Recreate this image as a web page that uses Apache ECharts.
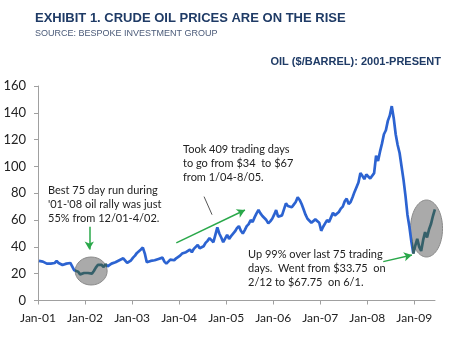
<!DOCTYPE html>
<html>
<head>
<meta charset="utf-8">
<script src="https://cdn.jsdelivr.net/npm/echarts@6/dist/echarts.min.js"></script>
<style>
  html, body { margin: 0; padding: 0; background: #fff; }
  #chart { width: 450px; height: 350px; }
</style>
</head>
<body>
<div id="chart"></div>
<script>
// tick labels
const xLabels = ['Jan-01', 'Jan-02', 'Jan-03', 'Jan-04', 'Jan-05', 'Jan-06', 'Jan-07', 'Jan-08', 'Jan-09'];

// oil price, $/barrel, two readings per month
const p2001 = [29.5, 30.5, 29.0, 28.5, 27.5, 26.5, 27.5, 28.5, 28.0, 29.5, 28.0, 27.0, 26.5, 27.0, 27.5, 26.5, 28.0, 27.0, 22.5, 22.0, 21.5, 19.5, 19.0, 20.5];
const p2002 = [19.5, 20.5, 21.0, 20.0, 22.0, 24.5, 26.5, 27.5, 26.5, 25.0, 27.0, 25.5, 26.0, 27.5, 27.0, 28.5, 29.0, 30.0, 30.5, 31.5, 31.0, 28.0, 27.5, 30.0];
const p2003 = [32.0, 33.5, 35.5, 36.5, 38.0, 39.5, 35.0, 28.5, 28.0, 29.5, 28.5, 30.0, 30.5, 31.0, 31.5, 32.0, 29.0, 27.5, 28.5, 30.5, 31.0, 30.0, 31.5, 32.5];
const p2004 = [33.5, 35.0, 34.5, 36.0, 36.5, 38.0, 36.0, 38.5, 40.0, 41.5, 39.0, 38.5, 40.5, 43.0, 44.5, 46.5, 45.0, 43.5, 49.0, 54.5, 50.0, 47.0, 43.5, 43.0];
const p2005 = [49.0, 46.0, 48.0, 47.5, 51.5, 54.0, 55.5, 52.0, 50.0, 52.5, 55.5, 57.0, 60.0, 58.5, 62.0, 65.0, 67.5, 65.0, 63.0, 61.5, 60.0, 57.5, 59.0, 61.0];
const p2006 = [64.0, 67.5, 62.5, 61.5, 63.5, 68.0, 72.5, 70.5, 71.5, 69.5, 71.5, 73.5, 77.0, 75.0, 72.0, 68.0, 64.0, 61.0, 60.0, 58.0, 58.5, 60.5, 61.5, 58.0];
const p2007 = [52.0, 55.0, 57.5, 60.0, 58.5, 62.0, 65.5, 63.5, 64.5, 66.0, 68.5, 70.0, 74.0, 76.0, 72.0, 73.5, 77.0, 81.0, 82.0, 88.0, 95.0, 93.0, 90.5, 94.0];
const p2008 = [95.0, 91.0, 92.0, 95.0, 108.0, 104.0, 111.0, 117.0, 124.0, 127.0, 134.0, 138.0, 145.0, 136.0, 124.0, 116.0, 110.0, 100.0, 90.0, 78.0, 64.0, 55.0, 44.0, 35.0];
const p2009 = [41.0, 46.0, 40.0, 37.0, 45.0, 51.0, 47.0, 53.0, 57.0, 63.0, 68.0];

const pricesByYear = [p2001, p2002, p2003, p2004, p2005, p2006, p2007, p2008, p2009];

// x = years since Jan-01
const points = [];
pricesByYear.forEach((arr, k) => {
  arr.forEach((v, i) => points.push([k + (i + 0.5) / 24, v]));
});

const BLUE = '#2c63d1';
const DARK = '#35606a';
const GREEN = '#2aa84a';
const NOTE_FONT = 'Lato';

// annotation arrows in data space
const arrowLines = [
  [{ coord: [1.09, 55], symbol: 'none' }, { coord: [1.09, 38], symbol: 'arrow' }],
  [{ coord: [2.94, 43], symbol: 'none' }, { coord: [4.40, 67.5], symbol: 'arrow' }],
  [{ coord: [7.34, 29], symbol: 'none' }, { coord: [7.95, 34], symbol: 'arrow' }],
  [{ coord: [3.53, 77.5], symbol: 'none', lineStyle: { color: '#555', width: 1 } }, { coord: [3.70, 64], symbol: 'none' }]
];

const chart = echarts.init(document.getElementById('chart'));

chart.setOption({
  animation: false,
  grid: { left: 38, right: 15, top: 86, bottom: 49.5 },
  xAxis: {
    type: 'value',
    min: 0,
    max: 8.44,
    interval: 1,
    splitLine: { show: false },
    axisLine: { lineStyle: { color: '#a0a0a0' } },
    axisTick: { length: 4, customValues: [0, 1, 2, 3, 4, 5, 6, 7, 8], lineStyle: { color: '#a0a0a0' } },
    axisLabel: {
      customValues: [0, 1, 2, 3, 4, 5, 6, 7, 8],
      formatter: v => xLabels[Math.round(v)],
      color: '#222',
      fontFamily: NOTE_FONT,
      fontSize: 12,
      margin: 12
    }
  },
  yAxis: {
    type: 'value',
    min: 0,
    max: 160,
    interval: 20,
    splitLine: { show: false },
    axisLine: { show: true, lineStyle: { color: '#a0a0a0' } },
    axisTick: { show: true, length: 4, lineStyle: { color: '#a0a0a0' } },
    axisLabel: { color: '#222', fontFamily: NOTE_FONT, fontSize: 13, margin: 12 }
  },
  visualMap: {
    type: 'piecewise',
    show: false,
    dimension: 0,
    seriesIndex: 0,
    pieces: [
      { lt: 0.79, color: BLUE },
      { gte: 0.79, lt: 1.46, color: DARK },
      { gte: 1.46, lt: 7.95, color: BLUE },
      { gte: 7.95, color: DARK }
    ]
  },
  series: [{
    type: 'line',
    data: points,
    showSymbol: false,
    lineStyle: { width: 2.7 },
    z: 3,
    markLine: {
      silent: true,
      symbolSize: [7, 8],
      label: { show: false },
      lineStyle: { color: GREEN, width: 1.5, type: 'solid' },
      data: arrowLines
    }
  }]
});

const px = p => chart.convertToPixel({ gridIndex: 0 }, p);

const ellipses = [
  { center: [1.13, 22], rx: 16, ry: 14 },
  { center: [8.26, 53.7], rx: 16, ry: 28.5 }
];

const notes = [
  { x: 48, y: 190, lines: ['Best 75 day run during', "'01-'08 oil rally was just", '55% from 12/01-4/02.'] },
  { x: 183, y: 149, lines: ['Took 409 trading days', 'to go from $34  to $67', 'from 1/04-8/05.'] },
  { x: 248, y: 254, lines: ['Up 99% over last 75 trading', 'days.  Went from $33.75  on', '2/12 to $67.75  on 6/1.'] }
];

const graphic = [];

ellipses.forEach(e => {
  const c = px(e.center);
  graphic.push({
    type: 'ellipse',
    z: 1,
    shape: { cx: c[0], cy: c[1], rx: e.rx, ry: e.ry },
    style: { fill: '#aaaaaa', stroke: '#8a8a8a', lineWidth: 1 }
  });
});

notes.forEach(n => {
  n.lines.forEach((t, i) => {
    graphic.push({
      type: 'text',
      x: n.x,
      y: n.y + i * 14,
      style: { text: t, fill: '#222', font: '11px ' + NOTE_FONT, textVerticalAlign: 'middle' }
    });
  });
});

graphic.push(
  {
    type: 'text', x: 35, y: 18,
    style: { text: 'EXHIBIT 1. CRUDE OIL PRICES ARE ON THE RISE', fill: '#1f3b66', font: 'bold 13px "Liberation Sans"', textVerticalAlign: 'middle' }
  },
  {
    type: 'text', x: 35, y: 34,
    style: { text: 'SOURCE: BESPOKE INVESTMENT GROUP', fill: '#4a5a78', font: '9px "Liberation Sans"', textVerticalAlign: 'middle' }
  },
  {
    type: 'text', x: 441, y: 62,
    style: { text: 'OIL ($/BARREL): 2001-PRESENT', fill: '#1f3b66', font: 'bold 11px "Liberation Sans"', textAlign: 'right', textVerticalAlign: 'middle' }
  }
);

chart.setOption({ graphic: graphic });
</script>
</body>
</html>
